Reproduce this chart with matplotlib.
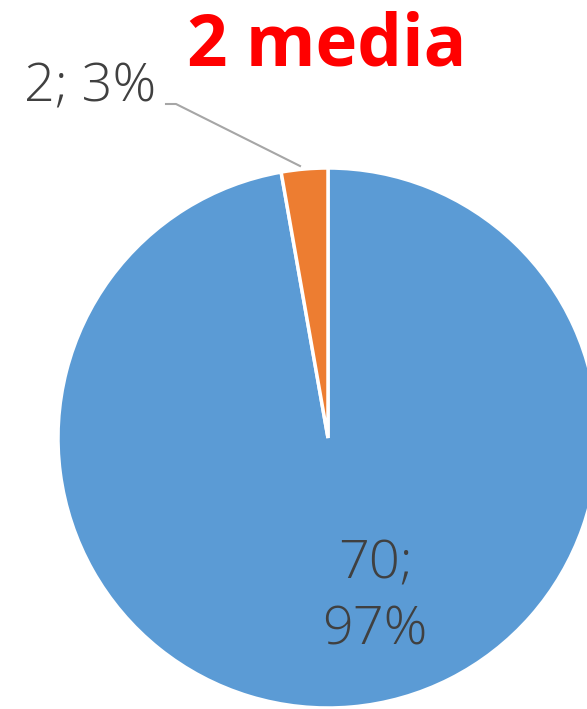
import matplotlib
matplotlib.use("Agg")
import matplotlib.pyplot as plt

categories = ["Other", "2 media"]
values = [70, 2]
percents = ["97%", "3%"]
colors = ["#5B9BD5", "#ED7D31"]
title = "2 media"

W, H = 587, 709
fig = plt.figure(figsize=(W / 100, H / 100), dpi=100)
ax = fig.add_axes([0, 0, 1, 1])
cx, cy, r = 328, H - 438, 270
ax.pie(values, colors=colors, startangle=90, counterclock=False,
       center=(cx, cy), radius=r,
       wedgeprops=dict(edgecolor="white", linewidth=2.5))
ax.set_xlim(0, W)
ax.set_ylim(0, H)
ax.set_aspect("equal")
ax.axis("off")

fam = ["Open Sans", "DejaVu Sans"]
ax.text(327, H - 47, title, color="#FF0000", fontsize=51, fontweight="bold",
        ha="center", va="center", family=fam)
ax.text(375, H - 598, f"{values[0]};\n{percents[0]}", color="#404040",
        fontsize=39, ha="center", va="center", linespacing=1.3,
        family=fam, fontweight="light")
ax.text(90, H - 88, f"{values[1]}; {percents[1]}", color="#404040",
        fontsize=39, ha="center", va="center", family=fam, fontweight="light")
ax.plot([166, 176, 300], [H - 104, H - 104, H - 166], color="#A6A6A6", lw=1.5)

fig.savefig("out.png", dpi=100)
